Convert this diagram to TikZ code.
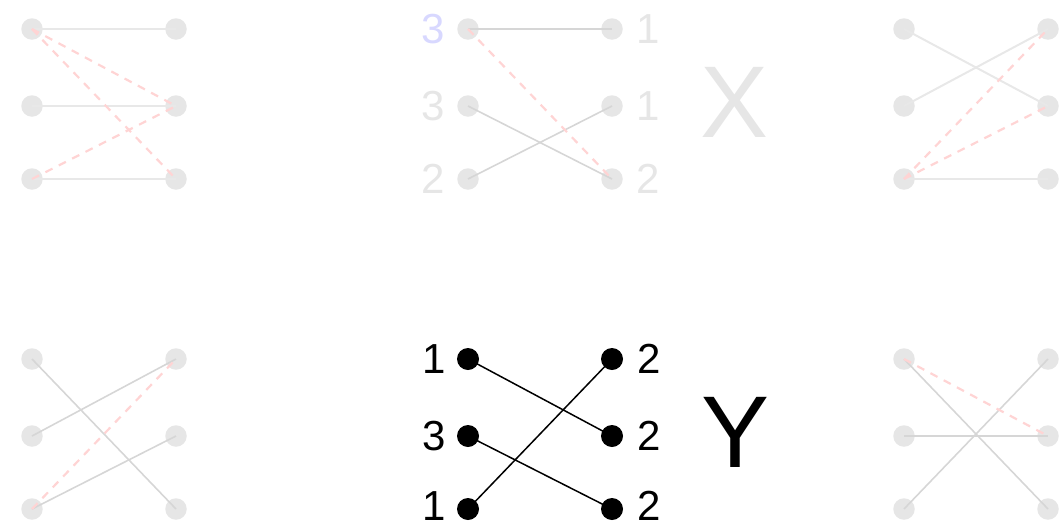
\documentclass[tikz,border=0pt]{standalone}
\usepackage{fontspec}
\setmainfont{Liberation Sans}
\definecolor{dotgray}{HTML}{E6E6E6}
\definecolor{lineA}{HTML}{E8E8E8}
\definecolor{lineB}{HTML}{D6D6D6}
\definecolor{dashred}{HTML}{FFD4D4}
\definecolor{labgray}{HTML}{E6E6E6}
\definecolor{labblue}{HTML}{D8D8FF}
\tikzset{
  faintdot/.style={circle,fill=dotgray,inner sep=0pt,minimum size=21.5pt},
  darkdot/.style={circle,fill=black,inner sep=0pt,minimum size=22pt},
  solidA/.style={draw=lineA,line width=2pt},
  solidB/.style={draw=lineB,line width=1.6pt},
  dashline/.style={draw=dashred,line width=2.2pt,dash pattern=on 8pt off 7pt},
  darkline/.style={draw=black,line width=1.5pt},
  digit/.style={inner sep=0pt,font=\fontsize{42}{42}\selectfont},
  bigletter/.style={inner sep=0pt,font=\fontsize{102}{102}\selectfont}
}
\begin{document}
\begin{tikzpicture}[x=1pt,y=-1pt]
\useasboundingbox (0,0) rectangle (1061,528);

% ---------- Panel 1 (top left)
\node[faintdot] (aL1) at (32,29) {};
\node[faintdot] (aL2) at (32,106) {};
\node[faintdot] (aL3) at (32,179) {};
\node[faintdot] (aR1) at (176,29) {};
\node[faintdot] (aR2) at (176,106) {};
\node[faintdot] (aR3) at (176,179) {};
\draw[solidA] (aL1.center) -- (aR1.center);
\draw[solidA] (aL2.center) -- (aR2.center);
\draw[solidA] (aL3.center) -- (aR3.center);
\draw[dashline] (aL1.center) -- (aR2.center);
\draw[dashline] (aL1.center) -- (aR3.center);
\draw[dashline] (aL3.center) -- (aR2.center);

% ---------- Panel 2 (top middle)
\node[faintdot] (bL1) at (468,29) {};
\node[faintdot] (bL2) at (468,106) {};
\node[faintdot] (bL3) at (468,179) {};
\node[faintdot] (bR1) at (612,29) {};
\node[faintdot] (bR2) at (612,106) {};
\node[faintdot] (bR3) at (612,179) {};
\draw[solidB] (bL1.center) -- (bR1.center);
\draw[solidB] (bL2.center) -- (bR3.center);
\draw[solidB] (bL3.center) -- (bR2.center);
\draw[dashline] (bL1.center) -- (bR3.center);
\node[digit,text=labblue] (bl1) at (433,29) {3};
\node[digit,text=labgray] (bl2) at (433,106) {3};
\node[digit,text=labgray] (bl3) at (433,179) {2};
\node[digit,text=labgray] (br1) at (648,29) {1};
\node[digit,text=labgray] (br2) at (648,106) {1};
\node[digit,text=labgray] (br3) at (648,179) {2};
\node[bigletter,text=labgray] (X) at (735,102) {X};

% ---------- Panel 3 (top right)
\node[faintdot] (cL1) at (904,29) {};
\node[faintdot] (cL2) at (904,106) {};
\node[faintdot] (cL3) at (904,179) {};
\node[faintdot] (cR1) at (1048,29) {};
\node[faintdot] (cR2) at (1048,106) {};
\node[faintdot] (cR3) at (1048,179) {};
\draw[solidA] (cL1.center) -- (cR2.center);
\draw[solidA] (cL2.center) -- (cR1.center);
\draw[solidA] (cL3.center) -- (cR3.center);
\draw[dashline] (cL3.center) -- (cR1.center);
\draw[dashline] (cL3.center) -- (cR2.center);

% ---------- Panel 4 (bottom left)
\node[faintdot] (dL1) at (32,359) {};
\node[faintdot] (dL2) at (32,436) {};
\node[faintdot] (dL3) at (32,509) {};
\node[faintdot] (dR1) at (176,359) {};
\node[faintdot] (dR2) at (176,436) {};
\node[faintdot] (dR3) at (176,509) {};
\draw[solidB] (dL1.center) -- (dR3.center);
\draw[solidB] (dL2.center) -- (dR1.center);
\draw[solidB] (dL3.center) -- (dR2.center);
\draw[dashline] (dL3.center) -- (dR1.center);

% ---------- Panel 5 (bottom middle, highlighted)
\node[darkdot] (eL1) at (468,359) {};
\node[darkdot] (eL2) at (468,436) {};
\node[darkdot] (eL3) at (468,509) {};
\node[darkdot] (eR1) at (612,359) {};
\node[darkdot] (eR2) at (612,436) {};
\node[darkdot] (eR3) at (612,509) {};
\draw[darkline] (eL1.center) -- (eR2.center);
\draw[darkline] (eL2.center) -- (eR3.center);
\draw[darkline] (eL3.center) -- (eR1.center);
\node[digit] (el1) at (434,359) {1};
\node[digit] (el2) at (434,436) {3};
\node[digit] (el3) at (434,506) {1};
\node[digit] (er1) at (649,359) {2};
\node[digit] (er2) at (649,436) {2};
\node[digit] (er3) at (649,506) {2};
\node[bigletter] (Y) at (736,432) {Y};

% ---------- Panel 6 (bottom right)
\node[faintdot] (fL1) at (904,359) {};
\node[faintdot] (fL2) at (904,436) {};
\node[faintdot] (fL3) at (904,509) {};
\node[faintdot] (fR1) at (1048,359) {};
\node[faintdot] (fR2) at (1048,436) {};
\node[faintdot] (fR3) at (1048,509) {};
\draw[solidB] (fL1.center) -- (fR3.center);
\draw[solidB] (fL2.center) -- (fR2.center);
\draw[solidB] (fL3.center) -- (fR1.center);
\draw[dashline] (fL1.center) -- (fR2.center);
\end{tikzpicture}
\end{document}
